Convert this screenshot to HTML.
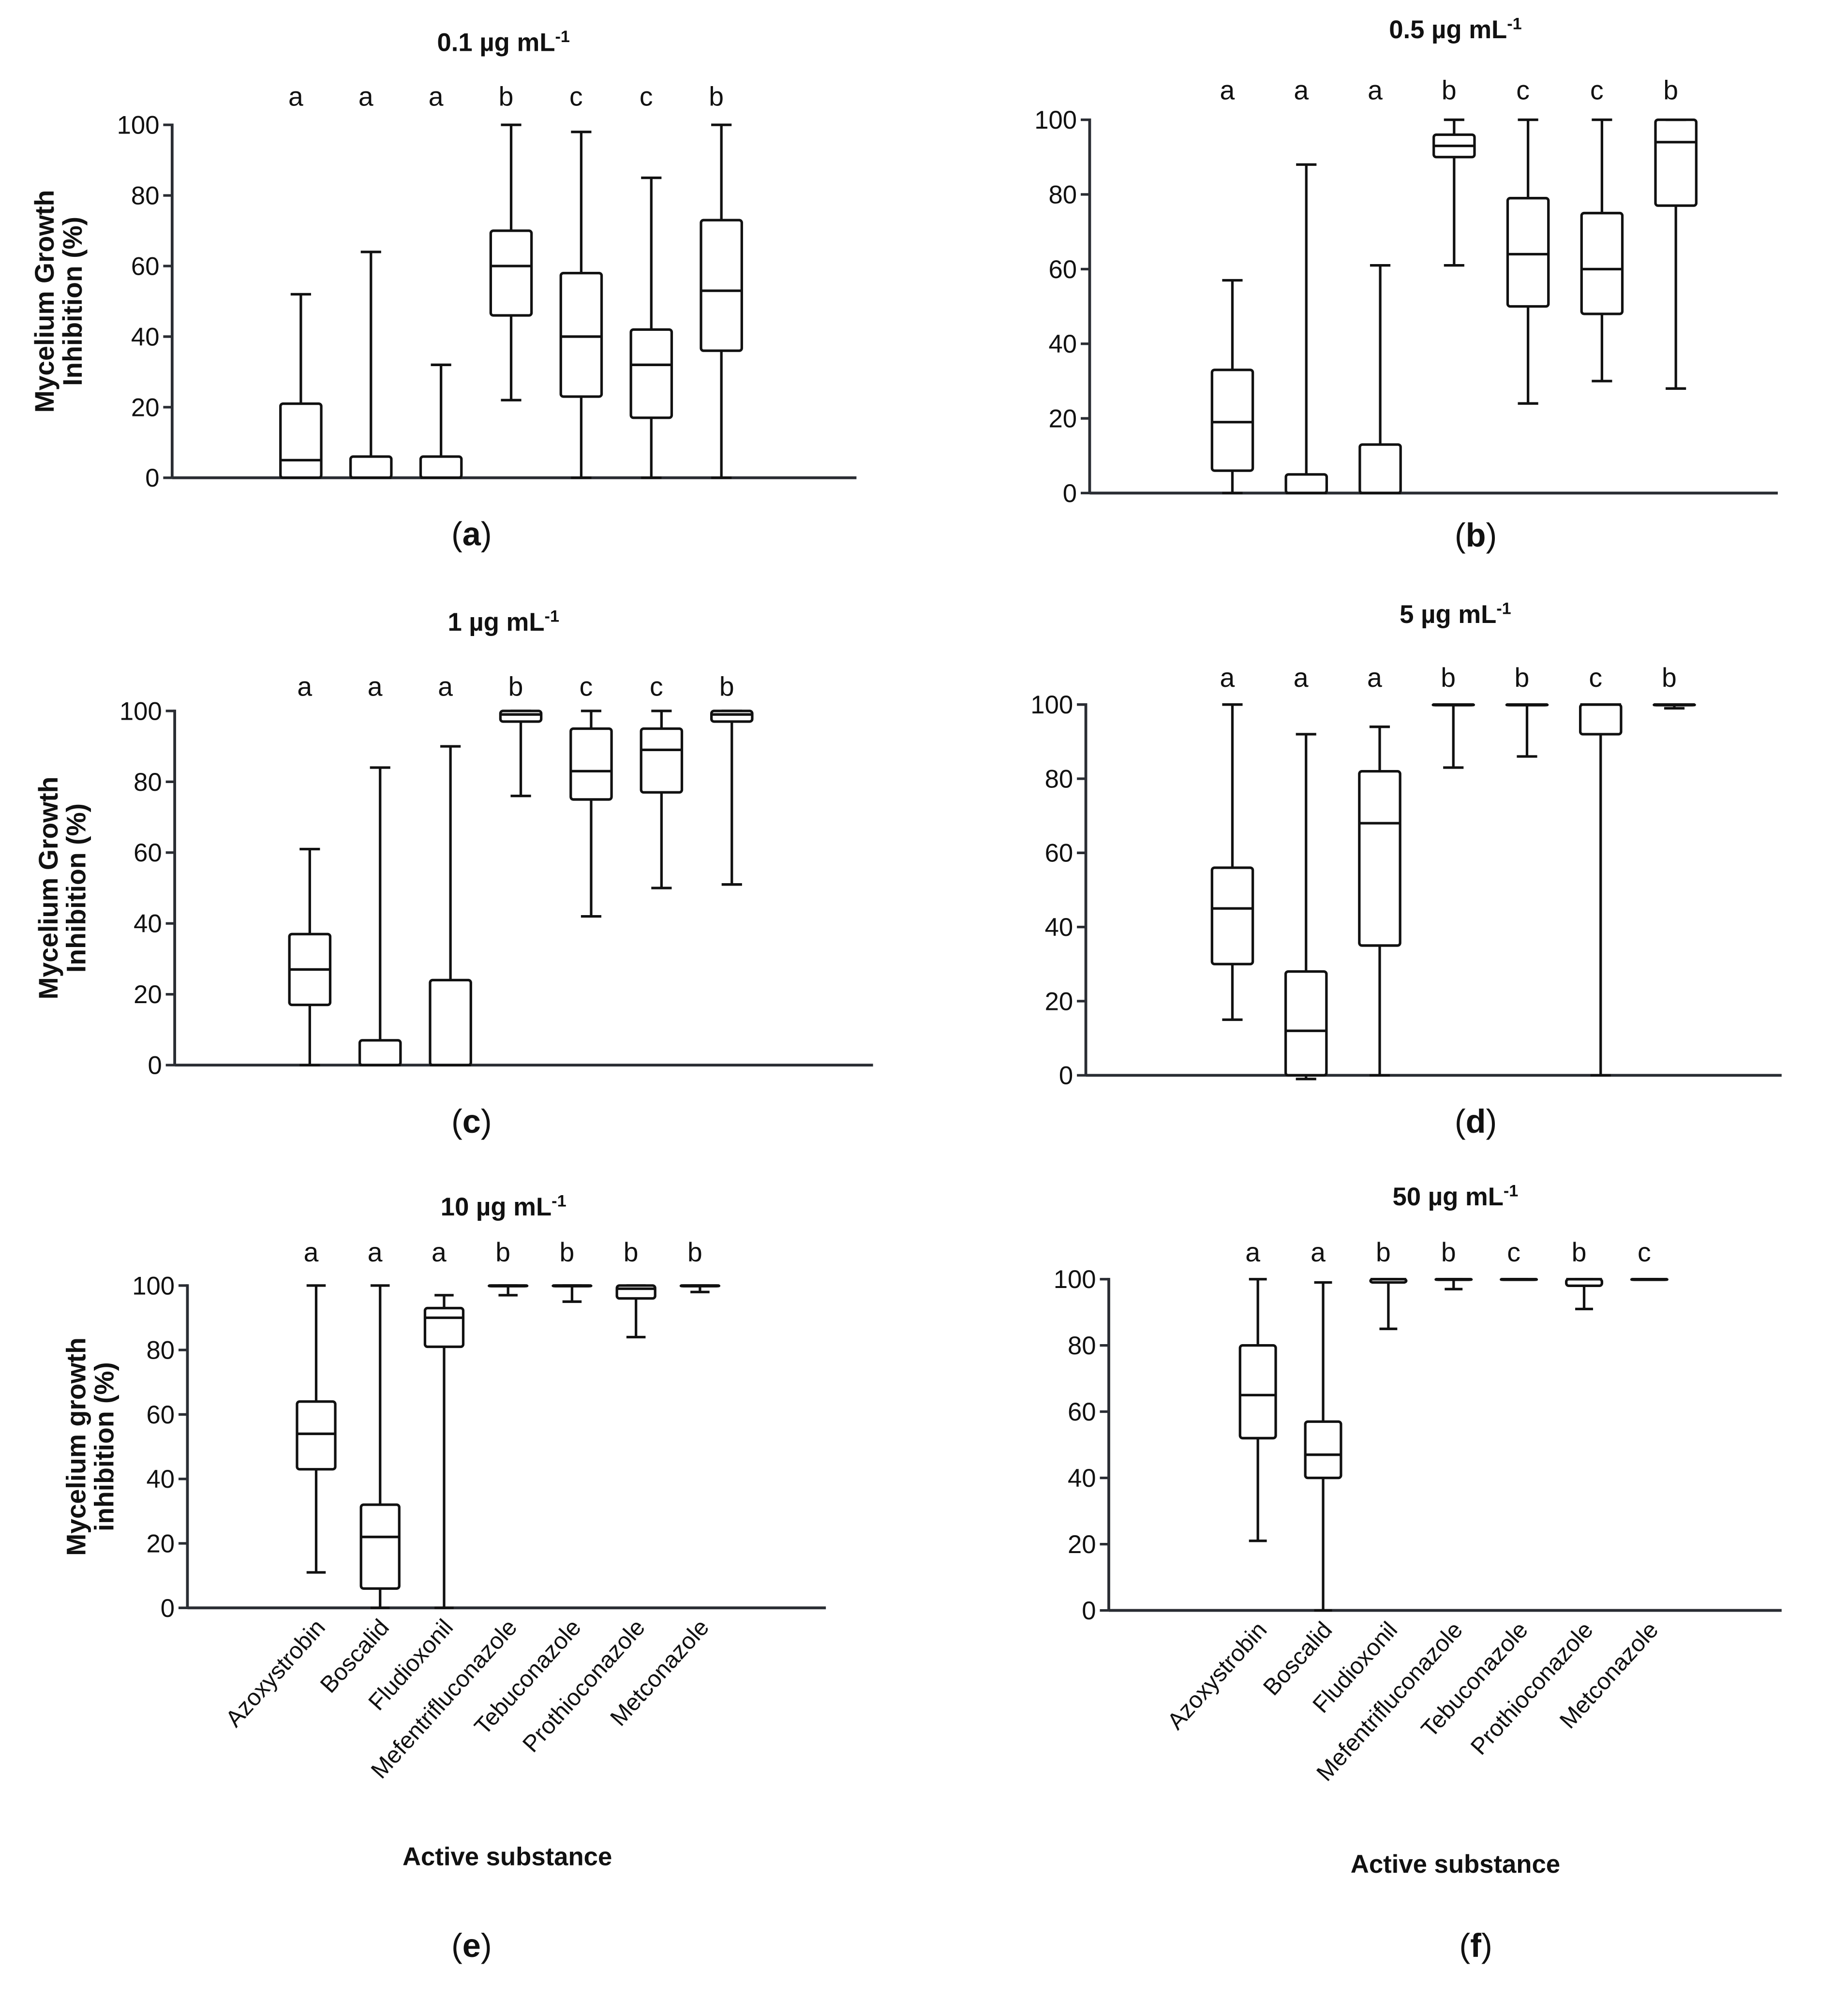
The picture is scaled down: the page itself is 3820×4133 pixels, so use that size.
<!DOCTYPE html>
<html><head><meta charset="utf-8"><style>
html,body{margin:0;padding:0;background:#fff}
svg{display:block}
text{font-family:"Liberation Sans",sans-serif;fill:#111}
</style></head><body>
<svg id="fig" width="3820" height="4133" viewBox="0 0 1450 1569" xmlns="http://www.w3.org/2000/svg"></svg>
<script>
const categories = ["Azoxystrobin","Boscalid","Fludioxonil","Mefentrifluconazole","Tebuconazole","Prothioconazole","Metconazole"];
const yTicks = [0,20,40,60,80,100];
// each box: [min, q1, median, q3, max]
const seriesA = [[0,0,5,21,52],[0,0,0,6,64],[0,0,0,6,32],[22,46,60,70,100],[0,23,40,58,98],[0,17,32,42,85],[0,36,53,73,100]];
const lettersA = ["a","a","a","b","c","c","b"];
const seriesB = [[0,6,19,33,57],[0,0,0,5,88],[0,0,0,13,61],[61,90,93,96,100],[24,50,64,79,100],[30,48,60,75,100],[28,77,94,100,100]];
const lettersB = ["a","a","a","b","c","c","b"];
const seriesC = [[0,17,27,37,61],[0,0,0,7,84],[0,0,0,24,90],[76,97,99,100,100],[42,75,83,95,100],[50,77,89,95,100],[51,97,99,100,100]];
const lettersC = ["a","a","a","b","c","c","b"];
const seriesD = [[15,30,45,56,100],[-1,0,12,28,92],[0,35,68,82,94],[83,100,100,100,100],[86,100,100,100,100],[0,92,100,100,100],[99,100,100,100,100]];
const lettersD = ["a","a","a","b","b","c","b"];
const seriesE = [[11,43,54,64,100],[0,6,22,32,100],[0,81,90,93,97],[97,100,100,100,100],[95,100,100,100,100],[84,96,99,100,100],[98,100,100,100,100]];
const lettersE = ["a","a","a","b","b","b","b"];
const seriesF = [[21,52,65,80,100],[0,40,47,57,99],[85,99,100,100,100],[97,100,100,100,100],[100,100,100,100,100],[91,98,100,100,100],[100,100,100,100,100]];
const lettersF = ["a","a","b","b","c","b","c"];
const titles = ["0.1","0.5","1","5","10","50"];

const panels = [
 {id:"a",data:seriesA,letters:lettersA,ax:135,xEnd:672,y0:375,y100:98,first:236,step:55,bw:32,ty:40,ly:83,tx:395,cap:[370,428],ytitle:["Mycelium Growth","Inhibition (%)"],ytx:44,rot:false},
 {id:"b",data:seriesB,letters:lettersB,ax:855,xEnd:1395,y0:387,y100:94,first:967,step:58,bw:32,ty:30,ly:78,tx:1142,cap:[1158,429],ytitle:null,rot:false},
 {id:"c",data:seriesC,letters:lettersC,ax:137,xEnd:685,y0:836,y100:558,first:243,step:55.2,bw:32,ty:495,ly:546,tx:395,cap:[370,889],ytitle:["Mycelium Growth","Inhibition (%)"],ytx:47,rot:false},
 {id:"d",data:seriesD,letters:lettersD,ax:852,xEnd:1398,y0:844,y100:553,first:967,step:57.8,bw:32,ty:489,ly:539,tx:1142,cap:[1158,889],ytitle:null,rot:false},
 {id:"e",data:seriesE,letters:lettersE,ax:147,xEnd:648,y0:1262,y100:1009,first:248,step:50.2,bw:30,ty:954,ly:990,tx:395,cap:[370,1536],ytitle:["Mycelium growth","inhibition (%)"],ytx:69,rot:true,xt:[398,1464]},
 {id:"f",data:seriesF,letters:lettersF,ax:870,xEnd:1398,y0:1264,y100:1004,first:987,step:51.2,bw:28,ty:946,ly:990,tx:1142,cap:[1158,1536],ytitle:null,rot:true,xt:[1142,1470]}
];
const NS="http://www.w3.org/2000/svg";
const svg=document.getElementById('fig');
function mk(tag,attrs,parent,txt){const e=document.createElementNS(NS,tag);for(const k in attrs)e.setAttribute(k,attrs[k]);if(txt!==undefined)e.textContent=txt;parent.appendChild(e);return e;}
panels.forEach((p,pi)=>{
 const g=mk('g',{},svg);
 
 
 const y=v=>p.y0+(p.y100-p.y0)*v/100;
 const x=i=>p.first+i*p.step;
 const t=mk('text',{x:p.tx,y:p.ty,'text-anchor':'middle','font-size':20,'font-weight':'bold'},g,titles[pi]+" \u00b5g mL");
 mk('tspan',{dy:-7,'font-size':13},t,"-1");
 
 
 const ya=mk('line',{x1:p.ax,y1:p.y100-1,x2:p.ax,y2:p.y0,stroke:'#2a2d33','stroke-width':2.2},g);
 
 
 const xa=mk('line',{x1:p.ax,y1:p.y0,x2:p.xEnd,y2:p.y0,stroke:'#2a2d33','stroke-width':2.2},g);
 
 
 yTicks.forEach(v=>{
  mk('line',{x1:p.ax-7,y1:y(v),x2:p.ax,y2:y(v),stroke:'#2a2d33','stroke-width':2},g);
  const tl=mk('text',{x:p.ax-10,y:y(v)+7,'text-anchor':'end','font-size':20},g,String(v));
  
  
 });
 if(p.ytitle){
  const cy=(p.y0+p.y100)/2;
  const yt=mk('text',{transform:`translate(${p.ytx},${cy}) rotate(-90)`,'text-anchor':'middle','font-size':21,'font-weight':'bold'},g);
  
  
  mk('tspan',{x:0,dy:-2},yt,p.ytitle[0]);
  mk('tspan',{x:0,dy:22},yt,p.ytitle[1]);
 }
 p.data.forEach((d,i)=>{
  const cx=x(i),hw=p.bw/2;
  const bg=mk('g',{fill:'none',stroke:'#111','stroke-width':2},g);
  
  
  mk('line',{x1:cx,y1:y(d[0]),x2:cx,y2:y(d[1])},bg);
  mk('line',{x1:cx,y1:y(d[3]),x2:cx,y2:y(d[4])},bg);
  mk('line',{x1:cx-hw/2,y1:y(d[4]),x2:cx+hw/2,y2:y(d[4])},bg);
  mk('line',{x1:cx-hw/2,y1:y(d[0]),x2:cx+hw/2,y2:y(d[0])},bg);
  mk('rect',{x:cx-hw,y:y(d[3]),width:p.bw,height:Math.max(0.5,y(d[1])-y(d[3])),rx:2},bg);
  mk('line',{x1:cx-hw,y1:y(d[2]),x2:cx+hw,y2:y(d[2])},bg);
  const lt=mk('text',{x:cx-4,y:p.ly,'text-anchor':'middle','font-size':21},g,p.letters[i]);
  
  
  if(p.rot){
   const xl=mk('text',{transform:`translate(${cx+8},${p.y0+16}) rotate(-48)`,'text-anchor':'end','font-size':18.5},g,categories[i]);
   
   
  }
 });
 if(p.xt){
  const xt=mk('text',{x:p.xt[0],y:p.xt[1],'text-anchor':'middle','font-size':20,'font-weight':'bold'},g,"Active substance");
  
  
 }
 const cap=mk('text',{x:p.cap[0],y:p.cap[1],'text-anchor':'middle','font-size':26,'font-family':'Liberation Serif'},g);
 
 
 mk('tspan',{},cap,"(");
 mk('tspan',{'font-weight':'bold'},cap,p.id);
 mk('tspan',{},cap,")");
});
</script>
</body></html>
